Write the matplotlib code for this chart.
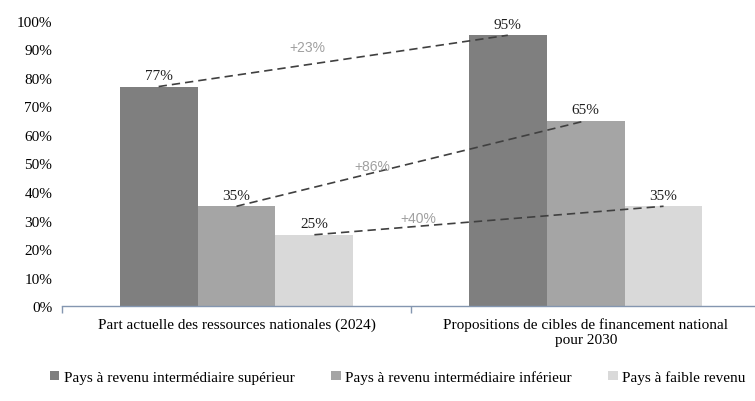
import numpy as np
import matplotlib.pyplot as plt

plt.rcParams['font.family'] = ['Liberation Serif', 'DejaVu Serif']

categories = ["Part actuelle des ressources nationales (2024)",
              "Propositions de cibles de financement national\npour 2030"]
series_names = ["Pays à revenu intermédiaire supérieur",
                "Pays à revenu intermédiaire inférieur",
                "Pays à faible revenu"]
values = [[0.77, 0.95],
          [0.35, 0.65],
          [0.25, 0.35]]
growth_labels = ["+23%", "+86%", "+40%"]
colors = ["#7F7F7F", "#A5A5A5", "#D9D9D9"]

fig = plt.figure(figsize=(7.55, 4.02), dpi=100)
ax = fig.add_axes([0.082, 0.2363, 0.925, 0.709])

x = np.arange(len(categories))
width = 0.223
offsets = [-width, 0, width]

for i, (name, vals) in enumerate(zip(series_names, values)):
    ax.bar(x + offsets[i], vals, width, color=colors[i], label=name, zorder=2)
    for xi, v in zip(x, vals):
        ax.text(xi + offsets[i], v + 0.015, f"{v*100:.0f}%", ha="center", va="bottom",
                fontsize=11, color="#202020", zorder=4)

# dashed evolution lines between the two periods
label_pos = [(0.204, 0.91), (0.388, 0.49), (0.52, 0.31)]
for i, vals in enumerate(values):
    ax.plot(x + offsets[i], vals, ls=(0, (5, 3)), color="#404040", lw=1.2, zorder=3)
    lx, ly = label_pos[i]
    ax.text(lx, ly, growth_labels[i], ha="center", va="center", fontsize=10,
            color="#A0A0A0", family=["Liberation Sans", "DejaVu Sans"], zorder=4)

ax.set_xlim(-0.5, 1.5)
ax.set_ylim(0, 1)
ax.set_yticks(np.arange(0, 1.01, 0.1))
ax.set_yticklabels([f"{t}%" for t in range(0, 101, 10)])
ax.set_xticks([-0.5, 0.5, 1.5], minor=False)
ax.set_xticklabels([])
ax.set_xticks(x, minor=True)
ax.set_xticklabels(categories, minor=True, fontsize=11)
ax.tick_params(axis="x", which="minor", length=0, pad=8)
ax.tick_params(axis="x", which="major", length=5, color="#8496B0", width=1)
ax.tick_params(axis="y", length=0, labelsize=11, pad=7)

for side in ["top", "right", "left"]:
    ax.spines[side].set_visible(False)
ax.spines["bottom"].set_color("#8496B0")
ax.spines["bottom"].set_linewidth(1)

fig.legend(loc="center", bbox_to_anchor=(0.527, 0.06), ncol=3, frameon=False,
           fontsize=11, handlelength=0.6, handleheight=0.6, handletextpad=0.3,
           columnspacing=2.4)

fig.savefig("out.png", dpi=100)
